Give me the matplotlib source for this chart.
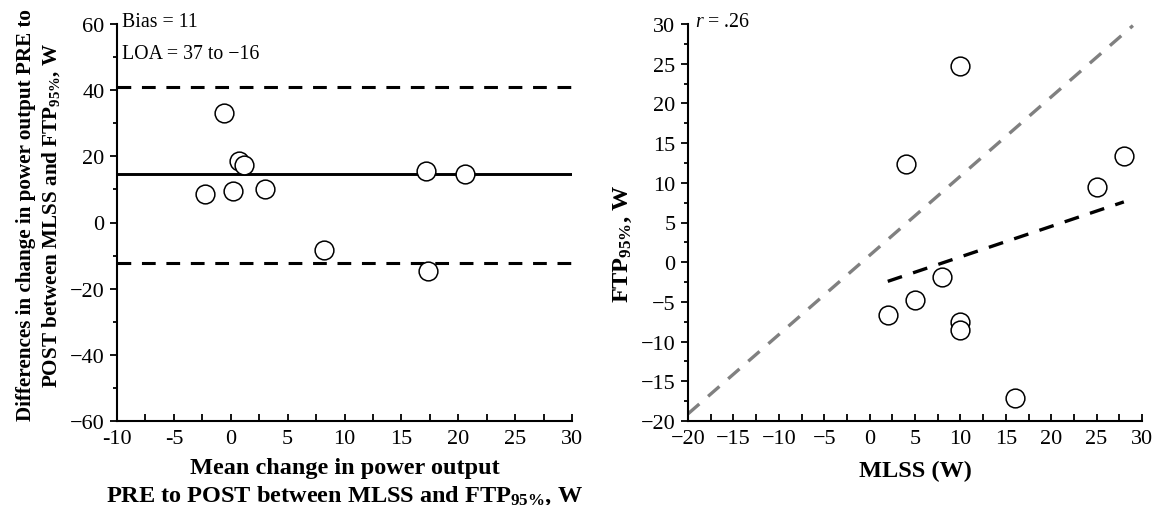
import matplotlib
matplotlib.use("Agg")
import matplotlib.pyplot as plt
import numpy as np
from matplotlib.ticker import MultipleLocator

plt.rcParams['font.family'] = ['Liberation Serif', 'DejaVu Serif']
plt.rcParams['mathtext.fontset'] = 'custom'
plt.rcParams['mathtext.rm'] = 'Liberation Serif'
plt.rcParams['mathtext.it'] = 'Liberation Serif:italic'
plt.rcParams['mathtext.bf'] = 'Liberation Serif:bold'

# ---- Left panel: Bland-Altman ----
ba_mean = [-0.57, 0.75, 1.2, -2.3, 0.16, 3.04, 17.2, 20.6, 8.2, 17.3]
ba_diff = [33.1, 18.6, 17.4, 8.6, 9.6, 10.1, 15.6, 14.6, -8.4, -14.8]
bias_line = 14.6
loa_upper = 41.1
loa_lower = -12.1
left_xticks = [-10, -5, 0, 5, 10, 15, 20, 25, 30]
left_xticklabels = ['-10', '-5', '0', '5', '10', '15', '20', '25', '30']
left_yticks = [-60, -40, -20, 0, 20, 40, 60]

# ---- Right panel: correlation ----
mlss = [10, 4, 25, 28, 8, 5, 2, 10, 10, 16]
ftp = [24.7, 12.4, 9.5, 13.4, -1.9, -4.7, -6.6, -7.5, -8.6, -17.1]
identity_x = [-20, 29]
identity_y = [-19.1, 29.8]
right_xticks = [-20, -15, -10, -5, 0, 5, 10, 15, 20, 25, 30]
right_yticks = [-20, -15, -10, -5, 0, 5, 10, 15, 20, 25, 30]

W, H = 1156, 506
fig = plt.figure(figsize=(W / 100, H / 100), dpi=100)

axL = fig.add_axes([117 / W, (H - 422) / H, 455 / W, 397 / H])
axR = fig.add_axes([688 / W, (H - 422) / H, 454 / W, 397 / H])

FS = 16
LFS = 17.5
mk = dict(marker='o', ms=13.5, mfc='white', mec='black', mew=1.1, ls='none', zorder=5)

for ax in (axL, axR):
    for s in ('top', 'right'):
        ax.spines[s].set_visible(False)
    for s in ('left', 'bottom'):
        ax.spines[s].set_linewidth(1.5)
    ax.tick_params(axis='x', which='major', direction='in', length=5, width=1.3, labelsize=FS, pad=6)
    ax.tick_params(axis='x', which='minor', direction='in', length=5, width=1.3)
    ax.tick_params(axis='y', which='major', direction='out', length=5, width=1.3, labelsize=FS, pad=4)
    ax.tick_params(axis='y', which='minor', direction='out', length=3, width=1.3)

# Left
axL.axhline(bias_line, color='black', lw=2.1, zorder=2)
axL.axhline(loa_upper, color='black', lw=2.2, ls=(0, (4.5, 3.5)), zorder=2)
axL.axhline(loa_lower, color='black', lw=2.2, ls=(0, (4.5, 3.5)), zorder=2)
axL.plot(ba_mean, ba_diff, **mk)
axL.set_xlim(-10, 30)
axL.set_ylim(-60, 60)
axL.set_xticks(left_xticks)
axL.set_xticklabels(left_xticklabels)
axL.xaxis.set_minor_locator(MultipleLocator(2.5))
axL.set_yticks(left_yticks)
axL.yaxis.set_minor_locator(MultipleLocator(10))
axL.set_xlabel('Mean change in power output\nPRE to POST between MLSS and FTP$_{\\mathbf{95\\%}}$, W',
               fontsize=LFS, fontweight='bold', labelpad=6, linespacing=1.35)
axL.set_ylabel('Differences in change in power output PRE to\nPOST between MLSS and FTP$_{\\mathbf{95\\%}}$, W',
               fontsize=15.2, fontweight='bold', linespacing=1.3)
axL.yaxis.set_label_coords(-0.12, 0.52)
axL.text(0.01, 1.03, 'Bias = 11', transform=axL.transAxes, fontsize=14.3, va='top', ha='left')
axL.text(0.01, 0.95, 'LOA = 37 to \u221216', transform=axL.transAxes, fontsize=14.3, va='top', ha='left')

# Right
axR.plot(identity_x, identity_y, color='#808080', lw=2.4, ls=(0, (4.5, 3.5)), zorder=2)
coef = np.polyfit(mlss, ftp, 1)
fx = np.array([min(mlss), max(mlss)])
axR.plot(fx, np.polyval(coef, fx), color='black', lw=2.4, ls=(0, (4.5, 3.5)), zorder=2)
axR.plot(mlss, ftp, **mk)
axR.set_xlim(-20, 30)
axR.set_ylim(-20, 30)
axR.set_xticks(right_xticks)
axR.set_yticks(right_yticks)
axR.xaxis.set_minor_locator(MultipleLocator(2.5))
axR.yaxis.set_minor_locator(MultipleLocator(2.5))
axR.set_xlabel('MLSS (W)', fontsize=LFS, fontweight='bold', labelpad=8)
axR.set_ylabel('FTP$_{\\mathbf{95\\%}}$, W', fontsize=LFS, fontweight='bold')
axR.yaxis.set_label_coords(-0.12, 0.45)
axR.text(0.015, 1.03, '$\\it{r}$ = .26', transform=axR.transAxes, fontsize=14.3, va='top', ha='left')

for ax in (axL, axR):
    for lab in ax.get_xticklabels() + ax.get_yticklabels():
        lab.set_fontsize(FS)

fig.savefig('out.png', dpi=100)
